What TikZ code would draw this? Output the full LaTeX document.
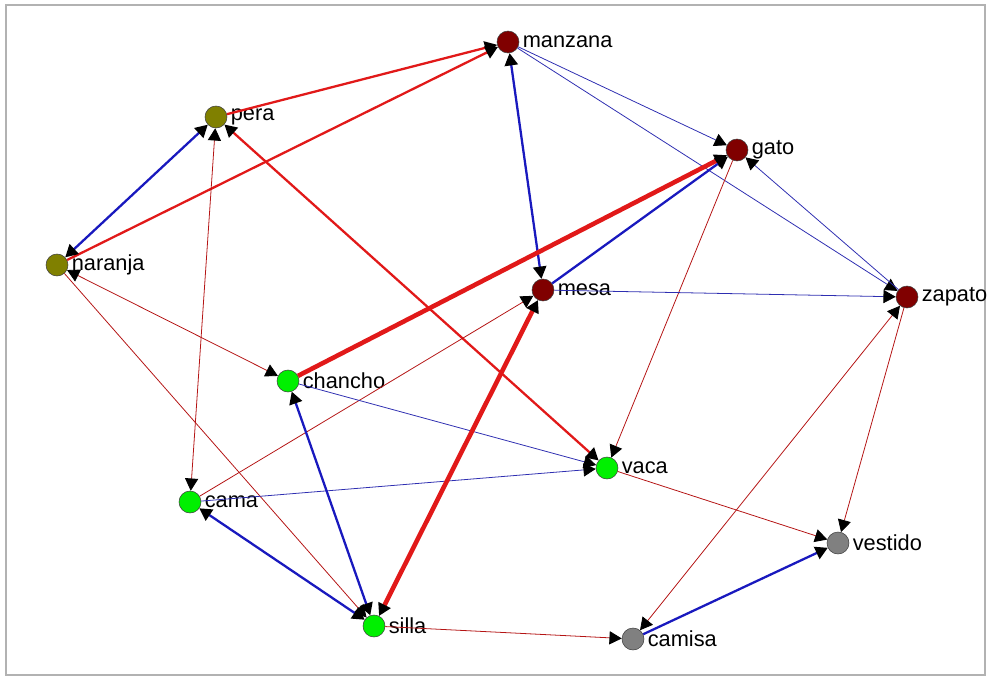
\documentclass[tikz,border=0pt]{standalone}
\usepackage{fontspec}
\setmainfont{Liberation Sans}
\usepackage{tikz}
\usetikzlibrary{arrows.meta,positioning,calc}
\definecolor{maroonnd}{RGB}{128,0,0}
\definecolor{olivend}{RGB}{128,128,0}
\definecolor{greennd}{RGB}{0,240,0}
\definecolor{graynd}{RGB}{128,128,128}
\definecolor{redln}{RGB}{225,25,25}
\definecolor{blueln}{RGB}{25,25,190}

\begin{document}
\begin{tikzpicture}
[x=0.02cm,y=-0.02cm,
>={Triangle[length=7pt,width=7.5pt,color=black]},
every label/.style={font=\fontsize{12.4}{14}\selectfont,label distance=-1.5pt},
nd/.style={circle,draw=black!75,line width=.3pt,inner sep=0pt,minimum size=.44cm},
fruta/.style={nd,fill=olivend},
cosa/.style={nd,fill=maroonnd},
animal/.style={nd,fill=greennd},
ropa/.style={nd,fill=graynd},
rthin/.style={draw=redln!80!black,line width=.45pt},
rmid/.style={draw=redln,line width=1.3pt},
rthick/.style={draw=redln,line width=2.6pt},
bthin/.style={draw=blueln!80!gray,line width=.45pt},
bmid/.style={draw=blueln,line width=1.3pt}]
\useasboundingbox (0,0) rectangle (990,680);
\draw[gray!60,line width=.6pt] (6,5) rectangle (985,675);

% nodes
\node[cosa,label=right:manzana] (manzana) at (508,42) {};
\node[fruta,label=right:pera] (pera) at (216,117) {};
\node[cosa,label=right:gato] (gato) at (737,150) {};
\node[fruta,label=right:naranja] (naranja) at (57,265) {};
\node[cosa,label=right:mesa] (mesa) at (543,290) {};
\node[cosa,label=right:zapato] (zapato) at (907,297) {};
\node[animal,label=right:chancho] (chancho) at (288,381) {};
\node[animal,label=right:vaca] (vaca) at (607,468) {};
\node[animal,label=right:cama] (cama) at (190,502) {};
\node[ropa,label=right:vestido] (vestido) at (838,543) {};
\node[animal,label=right:silla] (silla) at (374,626) {};
\node[ropa,label=right:camisa] (camisa) at (633,639) {};

% links
\draw[rmid,->] (pera) -- (manzana);
\draw[rmid,->] (naranja) -- (manzana);
\draw[bmid,<->] (naranja) -- (pera);
\draw[bmid,<->] (mesa) -- (manzana);
\draw[bthin,->] (manzana) -- (gato);
\draw[bthin,->] (manzana) -- (zapato);
\draw[bthin,->] (zapato) -- (gato);
\draw[rthick,->] (chancho) -- (gato);
\draw[bmid,->] (mesa) -- (gato);
\draw[rthin,->] (gato) -- (vaca);
\draw[bthin,->] (mesa) -- (zapato);
\draw[rmid,<->] (pera) -- (vaca);
\draw[rthin,<->] (pera) -- (cama);
\draw[rthin,->] (cama) -- (mesa);
\draw[rthin,<->] (naranja) -- (chancho);
\draw[rthin,->] (naranja) -- (silla);
\draw[bthin,->] (chancho) -- (vaca);
\draw[bthin,->] (cama) -- (vaca);
\draw[bmid,<->] (chancho) -- (silla);
\draw[bmid,<->] (silla) -- (cama);
\draw[rthick,<->] (mesa) -- (silla);
\draw[rthin,->] (silla) -- (camisa);
\draw[rthin,->] (vaca) -- (vestido);
\draw[bmid,->] (camisa) -- (vestido);
\draw[rthin,->] (zapato) -- (vestido);
\draw[rthin,<->] (camisa) -- (zapato);
\end{tikzpicture}
\end{document}
